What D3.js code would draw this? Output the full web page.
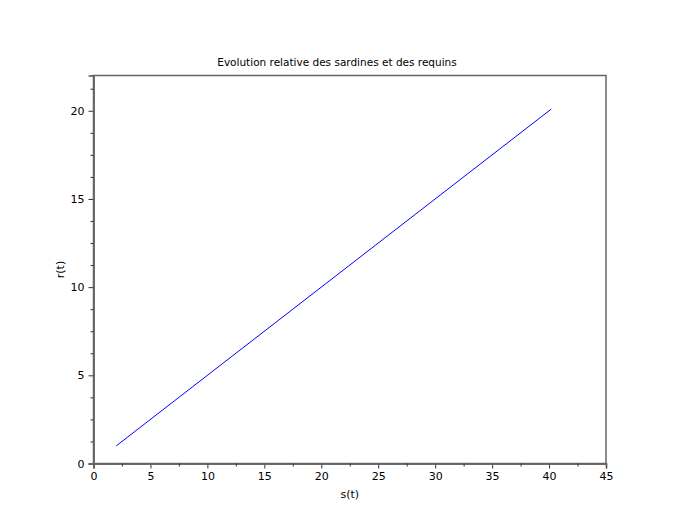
<!DOCTYPE html>
<html><head><meta charset="utf-8">
<script src="https://cdn.jsdelivr.net/npm/d3@7"></script>
<style>body{margin:0;background:#fff}svg{display:block}text{font-family:"DejaVu Sans",sans-serif;fill:#000}</style>
</head><body><svg id="c" width="678" height="520"></svg>
<script>
const title = "Evolution relative des sardines et des requins";
const xLabel = "s(t)";
const yLabel = "r(t)";
const sValues = [2.0, 40.2];
const rValues = [1.0, 20.1];
const xTicks = [0,5,10,15,20,25,30,35,40,45];
const yTicks = [0,5,10,15,20];
const xDomain = [0,45];
const yDomain = [0,22];

const svg = d3.select("#c");
const L=93.5,R=606,T=75.5,B=463.5;
const x = d3.scaleLinear().domain(xDomain).range([L,R]);
const y = d3.scaleLinear().domain(yDomain).range([B,T]);
const axisCol="#666";

// box
svg.append("rect").attr("x",L).attr("y",T).attr("width",R-L).attr("height",B-T)
  .attr("fill","none").attr("stroke",axisCol).attr("stroke-width",1.5);

// x axis
const xMinor = d3.range(0,45.01,2.5).filter(v=>v%5!==0);
const gx = svg.append("g").attr("transform",`translate(0,${B})`);
gx.call(d3.axisBottom(x).tickValues(xTicks).tickSize(5).tickPadding(4).tickFormat(d3.format("d")));
gx.append("g").call(d3.axisBottom(x).tickValues(xMinor).tickSize(3).tickFormat(""));
gx.selectAll(".domain").attr("stroke",axisCol).attr("stroke-width",1.5);
gx.selectAll("line").attr("stroke","#333");
gx.selectAll("text").style("font-size","11px").attr("fill","#000");

// y axis
const yMinor = d3.range(0,22.01,1.25).filter(v=>v%5!==0);
const gy = svg.append("g").attr("transform",`translate(${L},0)`);
gy.call(d3.axisLeft(y).tickValues(yTicks).tickSize(5).tickPadding(4).tickFormat(d3.format("d")));
gy.append("g").call(d3.axisLeft(y).tickValues(yMinor).tickSize(3).tickFormat(""));
gy.selectAll(".domain").attr("stroke",axisCol).attr("stroke-width",1.5);
gy.selectAll("line").attr("stroke","#333");
gy.selectAll("text").style("font-size","11px").attr("fill","#000");

// line
const pts = sValues.map((s,i)=>[s,rValues[i]]);
svg.append("path").datum(pts).attr("fill","none").attr("stroke","#0000ff").attr("stroke-width",1)
  .attr("d",d3.line().x(d=>x(d[0])).y(d=>y(d[1])));

svg.append("text").attr("x",337).attr("y",66).attr("text-anchor","middle").style("font-size","10.5px").text(title);
svg.append("text").attr("x",(L+R)/2).attr("y",498).attr("text-anchor","middle").style("font-size","11px").text(xLabel);
svg.append("text").attr("transform",`translate(64,${(T+B)/2}) rotate(-90)`).attr("text-anchor","middle").style("font-size","11px").text(yLabel);
</script></body></html>
